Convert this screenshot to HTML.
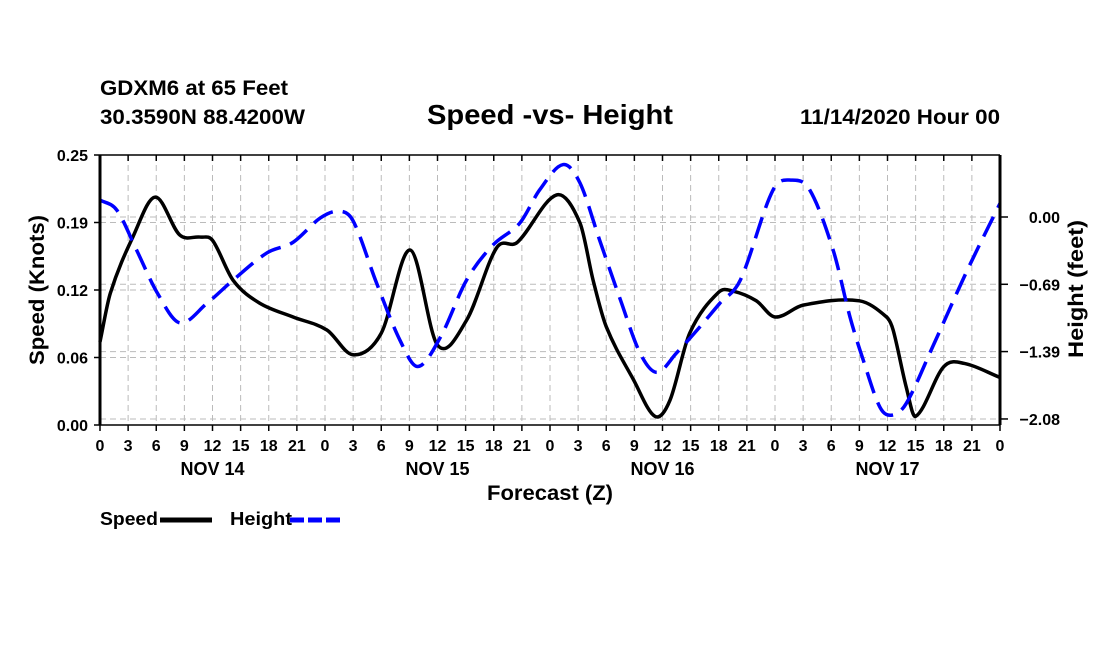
<!DOCTYPE html>
<html><head><meta charset="utf-8"><style>
body{margin:0;background:#fff;}
svg text{font-family:"Liberation Sans",sans-serif;font-weight:bold;fill:#000;}
</style></head><body>
<svg id="c" width="1100" height="650" xmlns="http://www.w3.org/2000/svg">
<text x="100" y="95" font-size="21" textLength="188" lengthAdjust="spacingAndGlyphs">GDXM6 at 65 Feet</text>
<text x="100" y="124" font-size="21" textLength="205" lengthAdjust="spacingAndGlyphs">30.3590N 88.4200W</text>
<text x="550" y="124" font-size="28" text-anchor="middle" textLength="246" lengthAdjust="spacingAndGlyphs">Speed -vs- Height</text>
<text x="1000" y="124" font-size="21" text-anchor="end" textLength="200" lengthAdjust="spacingAndGlyphs">11/14/2020 Hour 00</text>
<g id="grid"></g>
<g id="series"></g>
<g id="axes"></g>
<text transform="translate(44,290) rotate(-90)" font-size="21" text-anchor="middle" textLength="150" lengthAdjust="spacingAndGlyphs">Speed (Knots)</text>
<text transform="translate(1083,289) rotate(-90)" font-size="21" text-anchor="middle" textLength="138" lengthAdjust="spacingAndGlyphs">Height (feet)</text>
<text x="550" y="500" font-size="21" text-anchor="middle" textLength="126" lengthAdjust="spacingAndGlyphs">Forecast (Z)</text>
<g>
<text x="100" y="525" font-size="18" textLength="58" lengthAdjust="spacingAndGlyphs">Speed</text>
<line x1="160" y1="520" x2="212" y2="520" stroke="#000" stroke-width="5"/>
<text x="230" y="525" font-size="18" textLength="62" lengthAdjust="spacingAndGlyphs">Height</text>
<line x1="290" y1="520" x2="342" y2="520" stroke="#00f" stroke-width="5" stroke-dasharray="14,4"/>
</g>
</svg>
<script>
const speedHours=[0,1.1,3.5,5.9,8.5,10.7,12,14.2,17,20.6,24.2,27,30,33.1,36,39.1,42.3,44.5,48.7,51.2,52.6,54,56.9,59.2,60.8,62.9,66,67.5,70,72,75,81,83.9,84.6,86,87,90,92.2,96];
const speedVals=[0.077,0.122,0.174,0.211,0.176,0.174,0.171,0.134,0.113,0.100,0.088,0.065,0.085,0.162,0.074,0.097,0.164,0.169,0.213,0.187,0.134,0.091,0.042,0.008,0.023,0.085,0.123,0.124,0.115,0.100,0.111,0.115,0.100,0.088,0.035,0.008,0.054,0.057,0.044];
const heightHours=[0,1.8,3.9,6.1,8.5,11.4,14.2,17.8,20.6,23.5,25.5,27,29.5,32,33.9,36.3,39.1,41.9,44.8,46.9,49.4,51.2,53.3,55.5,57.6,59.4,61.5,64,66.1,68.3,71.8,73.8,75.7,78.2,80,81.4,83.2,84.5,86,88.8,92.5,96];
const heightVals=[0.175,0.07,-0.34,-0.78,-1.09,-0.89,-0.65,-0.37,-0.26,-0.01,0.06,-0.04,-0.68,-1.27,-1.54,-1.24,-0.65,-0.29,-0.06,0.28,0.54,0.35,-0.24,-0.85,-1.40,-1.60,-1.40,-1.13,-0.89,-0.65,0.28,0.38,0.28,-0.34,-1.03,-1.47,-1.96,-2.04,-1.92,-1.34,-0.55,0.14];
const leftTicks=[0,0.0625,0.125,0.1875,0.25];
const leftLabels=["0.00","0.06","0.12","0.19","0.25"];
const rightTicks=[0,-0.693,-1.386,-2.08];
const rightLabels=["0.00","−0.69","−1.39","−2.08"];
const dayLabels=["NOV 14","NOV 15","NOV 16","NOV 17"];
const X0=100,X1=1000,Y0=425,Y1=155;
const xs=h=>X0+(X1-X0)*h/96;
const ys=v=>Y0-(Y0-Y1)*v/0.25;
const yh=v=>217-v*97.1;
const NS="http://www.w3.org/2000/svg";
function mk(parent,tag,attrs){const e=document.createElementNS(NS,tag);for(const k in attrs)e.setAttribute(k,attrs[k]);parent.appendChild(e);return e;}
const grid=document.getElementById('grid'),axes=document.getElementById('axes'),series=document.getElementById('series');
for(let h=3;h<96;h+=3){const l=mk(grid,'line',{x1:xs(h),x2:xs(h),y1:Y1,y2:Y0,stroke:'#bbb','stroke-dasharray':'6,4'});

}
leftTicks.forEach((t,i)=>{const y=ys(t);
if(i>0&&i<4){const l=mk(grid,'line',{x1:X0,x2:X1,y1:y,y2:y,stroke:'#bbb','stroke-dasharray':'6,4'});

}
const tk=mk(axes,'line',{x1:X0-6,x2:X0,y1:y,y2:y,stroke:'#000','stroke-width':1.5});


const tx=mk(axes,'text',{x:X0-12,y:y+6,'font-size':16,'text-anchor':'end'});tx.textContent=leftLabels[i];

});
rightTicks.forEach((t,i)=>{const y=yh(t);
const l=mk(grid,'line',{x1:X0,x2:X1,y1:y,y2:y,stroke:'#bbb','stroke-dasharray':'6,4'});


const tk=mk(axes,'line',{x1:X1,x2:X1+8,y1:y,y2:y,stroke:'#000','stroke-width':1.5});


const tx=mk(axes,'text',{x:1060,y:y+6,'font-size':16,'text-anchor':'end'});tx.textContent=rightLabels[i];

});
for(let h=0;h<=96;h+=3){const x=xs(h);
const tk=mk(axes,'line',{x1:x,x2:x,y1:Y0,y2:Y0+6,stroke:'#000','stroke-width':1.5});


const tt=mk(axes,'line',{x1:x,x2:x,y1:Y1,y2:Y1+6,stroke:'#000','stroke-width':1.5});


const tx=mk(axes,'text',{x:x,y:451,'font-size':16,'text-anchor':'middle'});tx.textContent=String(h%24);

}
dayLabels.forEach((d,i)=>{const tx=mk(axes,'text',{x:xs(12+24*i),y:475,'font-size':18,'text-anchor':'middle'});tx.textContent=d;

});
const fr=mk(axes,'path',{d:`M${X0} ${Y1}H${X1}M${X0} ${Y0}H${X1}`,stroke:'#000','stroke-width':1.5,fill:'none'});


const la=mk(axes,'line',{x1:X0,x2:X0,y1:Y1,y2:Y0,stroke:'#000','stroke-width':3});


const ra=mk(axes,'line',{x1:X1,x2:X1,y1:Y1,y2:Y0,stroke:'#000','stroke-width':3});


function smooth(pts){let d=`M${pts[0][0]} ${pts[0][1]}`;for(let i=0;i<pts.length-1;i++){const p0=pts[Math.max(0,i-1)],p1=pts[i],p2=pts[i+1],p3=pts[Math.min(pts.length-1,i+2)];
const t1=(p2[0]-p1[0])/(p2[0]-p0[0]||1),t2=(p2[0]-p1[0])/(p3[0]-p1[0]||1);
d+=`C${p1[0]+(p2[0]-p0[0])*t1/3} ${p1[1]+(p2[1]-p0[1])*t1/3} ${p2[0]-(p3[0]-p1[0])*t2/3} ${p2[1]-(p3[1]-p1[1])*t2/3} ${p2[0]} ${p2[1]}`;}return d;}
const sp=mk(series,'path',{d:smooth(speedHours.map((h,i)=>[xs(h),ys(speedVals[i])])),stroke:'#000','stroke-width':3.5,fill:'none'});


const hp=mk(series,'path',{d:smooth(heightHours.map((h,i)=>[xs(h),yh(heightVals[i])])),stroke:'#00f','stroke-width':3.5,fill:'none','stroke-dasharray':'22,10'});


</script>
</body></html>
